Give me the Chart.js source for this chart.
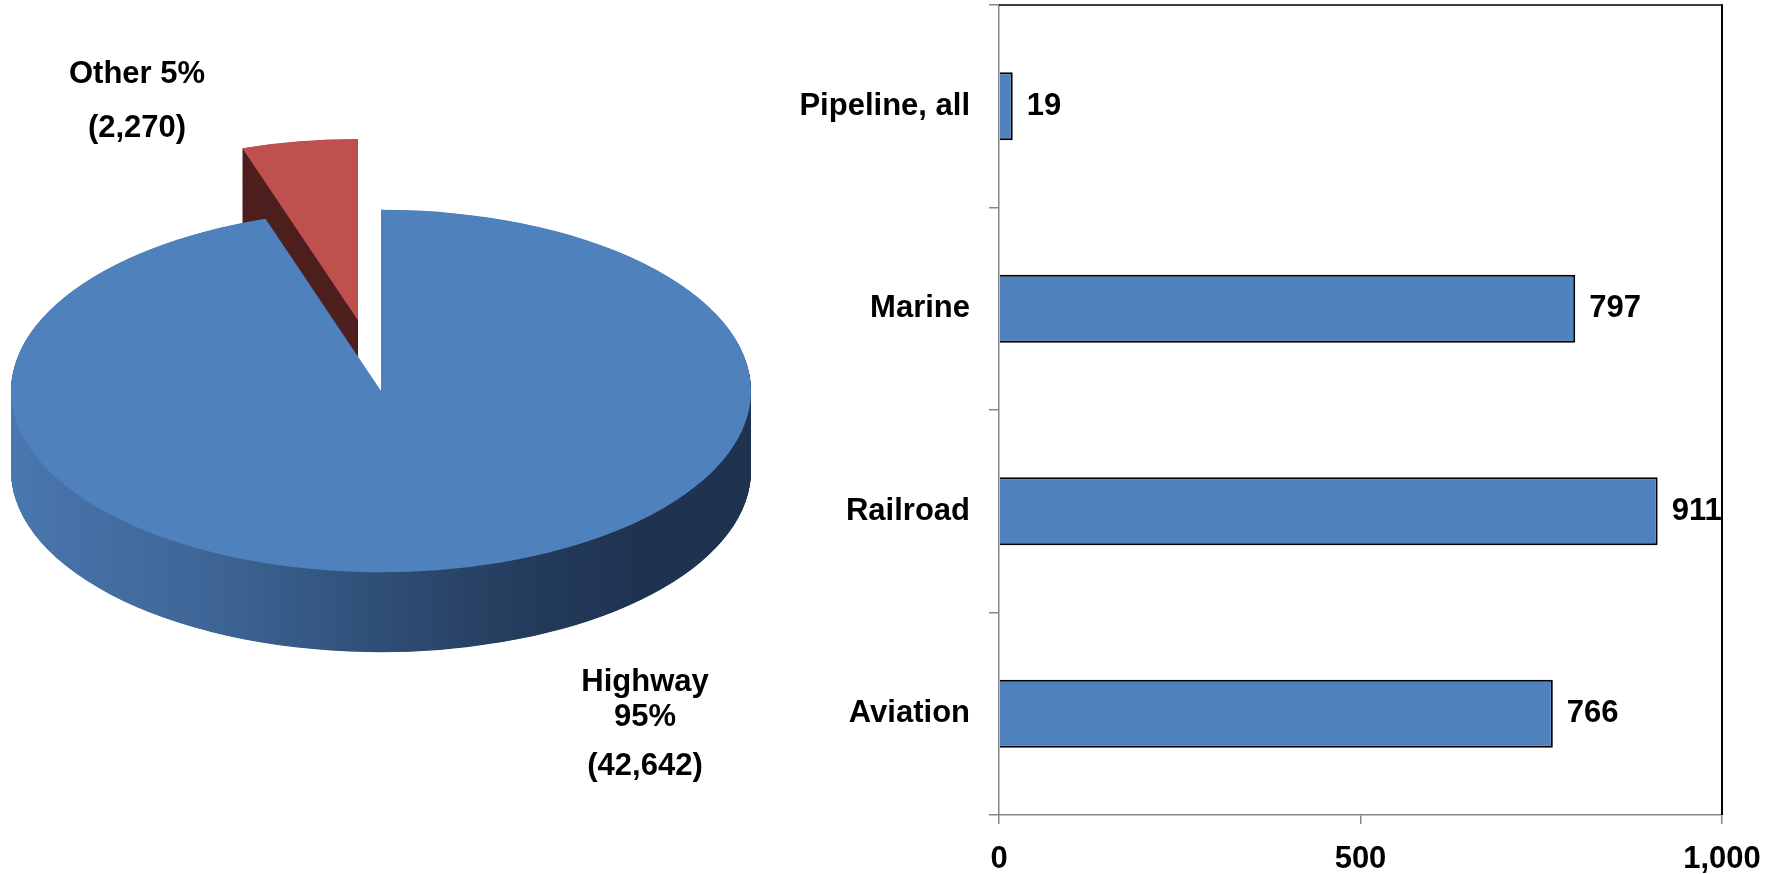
<!DOCTYPE html>
<html>
<head>
<meta charset="utf-8">
<title>Transportation: pie and bar</title>
<script src="https://cdn.jsdelivr.net/npm/chart.js@4.4.1/dist/chart.umd.min.js"></script>
<style>
  html, body { margin: 0; padding: 0; background: #fff; }
  body { width: 1779px; height: 874px; position: relative; overflow: hidden; }
  canvas { position: absolute; top: 0; }
  #pieChart { left: 0; }
  #barChart { left: 760px; }
</style>
</head>
<body>
<canvas id="pieChart" width="780" height="874"></canvas>
<canvas id="barChart" width="1019" height="874"></canvas>
<script>
// Data
const pieLabels = ['Highway', 'Other'];
const pieValues = [42642, 2270];

const barLabels = ['Pipeline, all', 'Marine', 'Railroad', 'Aviation'];
const barValues = [19, 797, 911, 766];
const xTicks = [0, 500, 1000];

// Styles
const FONT = '"Liberation Sans", Arial, sans-serif';
const labelFont = { family: FONT, size: 31, weight: 'bold' };
const axisGray = '#868686';
const sliceColors = ['#4F81BD', '#C0504D'];
const sideColors = [null, '#4E1F1F'];   // null -> gradient
const explodeBy = [0, 146];
const squash = 0.49;   // vertical tilt of the pie
const depth = 80;      // side height in px on screen
const pieRadius = 370;
const pieLabelAnchors = [
    { x: 645, ys: [682, 717, 766] },
    { x: 137, ys: [74, 128] }
];

const fmt = n => n.toLocaleString('en-US');

// 3D-ish pie: squash the circle into an ellipse and extrude a side below it
const pie3d = {
    id: 'pie3d',
    afterDatasetsUpdate(chart) {
        chart.getDatasetMeta(0).data.forEach((arc, i) => {
            const mid = (arc.startAngle + arc.endAngle) / 2;
            arc.x += Math.cos(mid) * explodeBy[i];
            arc.y += Math.sin(mid) * explodeBy[i];
        });
    },
    beforeDatasetsDraw(chart) {
        const { ctx, chartArea } = chart;
        const cx = (chartArea.left + chartArea.right) / 2;
        const cy = (chartArea.top + chartArea.bottom) / 2;
        ctx.save();
        ctx.translate(cx, cy);
        ctx.scale(1, squash);
        ctx.translate(-cx, -cy);

        const grad = ctx.createLinearGradient(cx - pieRadius, 0, cx + pieRadius, 0);
        grad.addColorStop(0, '#4A77AF');
        grad.addColorStop(0.3, '#3C6393');
        grad.addColorStop(0.5, '#2F4E76');
        grad.addColorStop(0.7, '#243B5B');
        grad.addColorStop(0.85, '#1F3351');
        grad.addColorStop(1, '#1F3250');

        const arcs = chart.getDatasetMeta(0).data;
        const steps = Math.round(depth / squash);
        for (let s = steps; s > 0; s--) {
            ctx.save();
            ctx.translate(0, s);
            arcs.forEach((arc, i) => {
                const side = Object.create(arc);
                side.options = Object.assign({}, arc.options, {
                    backgroundColor: sideColors[i] || grad,
                    borderWidth: 0
                });
                side.draw(ctx);
            });
            ctx.restore();
        }
    },
    afterDatasetsDraw(chart) {
        chart.ctx.restore();
    },
    afterDraw(chart) {
        const { ctx } = chart;
        const total = pieValues.reduce((a, b) => a + b, 0);
        ctx.save();
        ctx.font = `bold ${labelFont.size}px ${FONT}`;
        ctx.fillStyle = '#000';
        ctx.textAlign = 'center';
        ctx.textBaseline = 'middle';
        pieLabels.forEach((label, i) => {
            const pct = Math.round(pieValues[i] / total * 100) + '%';
            const lines = i === 0
                ? [label, pct, `(${fmt(pieValues[i])})`]
                : [`${label} ${pct}`, `(${fmt(pieValues[i])})`];
            const a = pieLabelAnchors[i];
            lines.forEach((t, j) => ctx.fillText(t, a.x, a.ys[j]));
        });
        ctx.restore();
    }
};

// Bar chart extras: value labels and the black frame on top/right
const barExtras = {
    id: 'barExtras',
    afterDatasetsDraw(chart) {
        const { ctx } = chart;
        ctx.save();
        ctx.font = `bold ${labelFont.size}px ${FONT}`;
        ctx.fillStyle = '#000';
        ctx.textAlign = 'left';
        ctx.textBaseline = 'middle';
        chart.getDatasetMeta(0).data.forEach((bar, i) => {
            ctx.fillText(fmt(barValues[i]), bar.x + 14, bar.y);
        });
        ctx.restore();
    },
    afterDraw(chart) {
        const { ctx, chartArea: a } = chart;
        ctx.save();
        ctx.strokeStyle = '#000';
        ctx.lineWidth = 1.5;
        ctx.beginPath();
        ctx.moveTo(a.left, a.top);
        ctx.lineTo(a.right, a.top);
        ctx.stroke();
        ctx.lineWidth = 2;
        ctx.beginPath();
        ctx.moveTo(a.right, a.top - 0.75);
        ctx.lineTo(a.right, a.bottom);
        ctx.stroke();
        ctx.restore();
    }
};

new Chart(document.getElementById('pieChart'), {
    type: 'pie',
    data: {
        labels: pieLabels,
        datasets: [{
            data: pieValues,
            backgroundColor: sliceColors,
            borderWidth: 0,
            clip: false
        }]
    },
    options: {
        responsive: false,
        animation: false,
        events: [],
        radius: pieRadius,
        layout: { padding: { left: 0, top: 0, right: 18, bottom: 92 } },
        plugins: { legend: { display: false }, tooltip: { enabled: false } }
    },
    plugins: [pie3d]
});

new Chart(document.getElementById('barChart'), {
    type: 'bar',
    data: {
        labels: barLabels,
        datasets: [{
            data: barValues,
            backgroundColor: '#4F81BD',
            borderColor: '#000',
            borderWidth: 2,
            barPercentage: 0.335,
            categoryPercentage: 1
        }]
    },
    options: {
        indexAxis: 'y',
        responsive: false,
        animation: false,
        events: [],
        layout: { padding: { top: 5, right: 57, bottom: 0, left: 0 } },
        plugins: { legend: { display: false }, tooltip: { enabled: false } },
        scales: {
            x: {
                min: xTicks[0],
                max: xTicks[xTicks.length - 1],
                ticks: { stepSize: xTicks[1] - xTicks[0], color: '#000', font: labelFont, padding: 17, maxRotation: 0 },
                grid: { drawOnChartArea: false, tickLength: 9, color: axisGray, lineWidth: 1.5 },
                border: { color: axisGray, width: 1.5 },
                afterFit(scale) {
                    scale.height = 59;
                    scale.paddingLeft = 0;
                    scale.paddingRight = 0;
                }
            },
            y: {
                ticks: { color: '#000', font: labelFont, padding: 19 },
                grid: { drawOnChartArea: false, tickLength: 10, color: axisGray, lineWidth: 1.5 },
                border: { color: axisGray, width: 1.5 },
                afterFit(scale) {
                    scale.width = 239;
                    scale.paddingTop = 0;
                    scale.paddingBottom = 0;
                }
            }
        }
    },
    plugins: [barExtras]
});
</script>
</body>
</html>
